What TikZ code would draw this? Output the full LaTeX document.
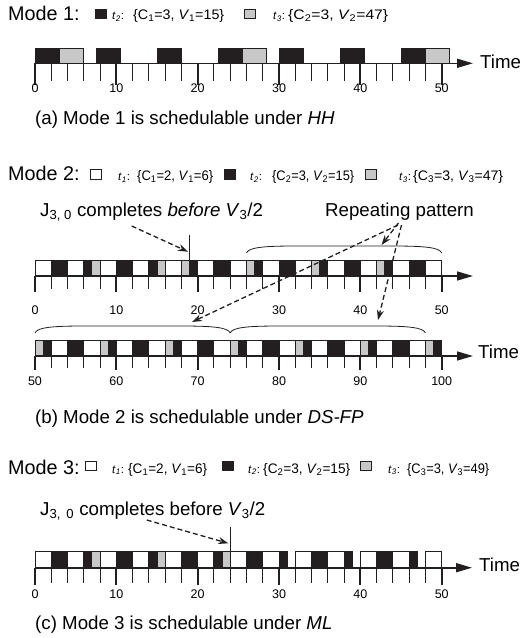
\documentclass[tikz,border=0pt]{standalone}
\usepackage{graphicx}
\usepackage{fontspec}
\setmainfont{Liberation Sans}
\usetikzlibrary{arrows.meta}
\definecolor{blk}{HTML}{231F20}
\definecolor{gry}{HTML}{C8C8C8}
\definecolor{wht}{HTML}{FFFFFF}
\newcommand{\schedrow}[4]{\foreach \s/\e/\c in {#4}{\filldraw[blockst, fill=\c] ({35+8.134*(\s-#1)},#2) rectangle ({35+8.134*(\e-#1)},#3);}}
\newcommand{\ticksrow}[6]{%
 \foreach \t in {0,2,...,50}{\draw[minortick] ({35+8.134*\t},#2) -- ({35+8.134*\t},{#2+#3});}
 \foreach \t in {0,10,...,50}{\draw[majortick] ({35+8.134*\t},#2) -- ({35+8.134*\t},{#2+#4});
   \pgfmathtruncatemacro{\lab}{\t+#1}
   \node[ticklab] (lab#6-\t) at ({35+8.134*\t},#5) {\lab};}}
\newcommand{\archbrace}[4]{\draw[bracest] (#1,#3) .. controls (#1+2,#4+1) and (#1+20,#4) .. (#1+50,#4) -- (#2-50,#4) .. controls (#2-20,#4) and (#2-2,#4+1) .. (#2,#3);}
\newcommand{\tsub}[2]{\textit{#1}\textsubscript{\textit{#2}}:}
\newcommand{\legt}[4]{\resizebox{#1pt}{\height}{\{C\textsubscript{#2}=#3, \textit{V}\textsubscript{#2}=#4\}}}
\tikzset{
 big/.style={font=\fontsize{18.7}{21}\selectfont, inner sep=0pt, anchor=base west},
 modelab/.style={font=\fontsize{19.8}{22}\selectfont, inner sep=0pt, anchor=base west},
 small/.style={font=\fontsize{13.8}{16}\selectfont, inner sep=0pt, anchor=base west},
 tlab/.style={font=\fontsize{11.5}{14}\selectfont, inner sep=0pt, anchor=base west},
 ticklab/.style={font=\fontsize{12.5}{14}\selectfont, inner sep=0pt},
 sq/.style={draw=blk, line width=0.9pt, minimum width=11pt, minimum height=9.5pt, inner sep=0pt},
 blockst/.style={draw=blk, line width=0.9pt},
 minortick/.style={draw=blk, line width=1pt},
 majortick/.style={draw=blk, line width=2pt},
 axisst/.style={draw=blk, line width=1.6pt, -{Triangle[length=16pt,width=9pt]}},
 dasharrow/.style={draw=blk, line width=1.3pt, dash pattern=on 5pt off 3pt, -{Stealth[length=10pt,width=7pt]}},
 bracest/.style={draw=blk, line width=0.8pt},
 marker/.style={draw=blk, line width=0.9pt}
}
\begin{document}
\begin{tikzpicture}[x=1pt,y=-1pt]
\useasboundingbox (0,0) rectangle (523,638);
% ---------- panel a ----------
\node[modelab] (m1) at (8,20.7) {Mode 1:};
\node[sq, fill=blk] (m1s2) at (101.2,13.8) {};
\node[tlab] (m1t2) at (112,19.8) {\tsub{t}{2}};
\node[small] (m1p2) at (133,19.8) {\legt{91}{1}{3}{15}};
\node[sq, fill=gry] (m1s3) at (250,13.8) {};
\node[tlab] (m1t3) at (273,19.8) {\tsub{t}{3}};
\node[small] (m1p3) at (288,19.8) {\legt{100}{2}{3}{47}};
\schedrow{0}{48}{63.3}{0/3/blk, 3/6/gry, 7.5/10.5/blk, 15/18/blk, 22.5/25.5/blk, 25.5/28.5/gry, 30/33/blk, 37.5/40.5/blk, 45/48/blk, 48/51/gry}
\coordinate (a0) at (35,63.3); \coordinate (a1) at (473,63.3);
\draw[axisst] (a0) -- (a1);
\ticksrow{0}{63.3}{18}{22}{88}{a}
\node[big] (timea) at (480,68.5) {Time};
\node[big] (capa) at (35,124.5) {(a) Mode 1 is schedulable under \textit{HH}};
% ---------- panel b ----------
\node[modelab] (m2) at (8,180.7) {Mode 2:};
\node[sq, fill=wht] (m2s1) at (96,174.2) {};
\node[tlab] (m2t1) at (118,180.2) {\tsub{t}{1}};
\node[small] (m2p1) at (137,180.2) {\legt{76}{1}{2}{6}};
\node[sq, fill=blk] (m2s2) at (230,174.2) {};
\node[tlab] (m2t2) at (250,180.2) {\tsub{t}{2}};
\node[small] (m2p2) at (272,180.2) {\legt{82}{2}{3}{15}};
\node[sq, fill=gry] (m2s3) at (370.5,174.2) {};
\node[tlab] (m2t3) at (399,180.2) {\tsub{t}{3}};
\node[small] (m2p3) at (413,180.2) {\legt{90}{3}{3}{47}};
\node[big] (jb) at (40,216.7) {J\textsubscript{3, 0} completes \textit{before} \textit{V}\textsubscript{3}/2};
\node[big] (rp) at (325,216.7) {Repeating pattern};
% row 1
\schedrow{0}{260}{276}{0/2/wht, 2/4/blk, 4/6/wht, 6/7/blk, 7/8/gry, 8/10/wht, 10/12/blk, 12/14/wht, 14/15/blk, 15/16/gry, 16/18/wht, 18/19/gry, 19/20/blk, 20/22/wht, 22/24/blk, 24/26/wht,
 26/27/gry, 27/28/blk, 28/30/wht, 30/32/blk, 32/34/wht,
 34/35/gry, 35/36/blk, 36/38/wht, 38/40/blk, 40/42/wht,
 42/43/gry, 43/44/blk, 44/46/wht, 46/48/blk, 48/50/wht}
\coordinate (b0) at (35,276); \coordinate (b1) at (473,276);
\draw[axisst] (b0) -- (b1);
\ticksrow{0}{276}{13}{16}{310}{b}
\coordinate (mkb) at ({35+8.134*19},235); \coordinate (mkbb) at ({35+8.134*19},260);
\draw[marker] (mkb) -- (mkbb);
\coordinate (jbs) at (131.7,226); \coordinate (jbe) at (188,251.7);
\draw[dasharrow] (jbs) -- (jbe);
\archbrace{246.5}{441.7}{253}{246}
% row 2
\schedrow{50}{340.7}{356}{50/51/gry, 51/52/blk, 52/54/wht, 54/56/blk, 56/58/wht,
 58/59/gry, 59/60/blk, 60/62/wht, 62/64/blk, 64/66/wht,
 66/67/gry, 67/68/blk, 68/70/wht, 70/72/blk, 72/74/wht,
 74/75/gry, 75/76/blk, 76/78/wht, 78/80/blk, 80/82/wht,
 82/83/gry, 83/84/blk, 84/86/wht, 86/88/blk, 88/90/wht,
 90/91/gry, 91/92/blk, 92/94/wht, 94/96/blk, 96/98/wht,
 98/99/gry, 99/100/blk}
\coordinate (c0) at (35,356); \coordinate (c1) at (473,356);
\draw[axisst] (c0) -- (c1);
\ticksrow{50}{356}{12}{14}{381}{c}
\node[big] (timeb) at (478,358.5) {Time};
\archbrace{35}{230.2}{333}{326}
\archbrace{230.2}{425.4}{333}{326}
\coordinate (rps1) at (398.5,223); \coordinate (rps2) at (398,225); \coordinate (rps3) at (401.5,225);
\coordinate (br1) at (381.5,245); \coordinate (br2) at (192,322); \coordinate (br3) at (378,320);
\draw[dasharrow] (rps1) -- (br1);
\draw[dasharrow] (rps2) -- (br2);
\draw[dasharrow] (rps3) -- (br3);
\node[big] (capb) at (35,423.3) {(b) Mode 2 is schedulable under \textit{DS-FP}};
% ---------- panel c ----------
\node[modelab] (m3) at (8,474) {Mode 3:};
\node[sq, fill=wht] (m3s1) at (91,466) {};
\node[tlab] (m3t1) at (112,473) {\tsub{t}{1}};
\node[small] (m3p1) at (128,473) {\legt{79}{1}{2}{6}};
\node[sq, fill=blk] (m3s2) at (228,466) {};
\node[tlab] (m3t2) at (248,473) {\tsub{t}{2}};
\node[small] (m3p2) at (263,473) {\legt{87}{2}{3}{15}};
\node[sq, fill=gry] (m3s3) at (366,466) {};
\node[tlab] (m3t3) at (388,473) {\tsub{t}{3}};
\node[small] (m3p3) at (407,473) {\legt{82}{3}{3}{49}};
\node[big] (jc) at (40,515) {J\textsubscript{3,\, 0} completes before \textit{V}\textsubscript{3}/2};
\schedrow{0}{551.7}{567.7}{0/2/wht, 2/4/blk, 4/6/wht, 6/7/blk, 7/8/gry, 8/10/wht, 10/12/blk, 12/14/wht, 14/15/blk, 15/16/gry, 16/18/wht, 18/20/blk, 20/22/wht, 22/23/blk, 23/24/gry, 24/26/wht, 26/28/blk, 28/30/wht, 30/31/blk, 32/34/wht, 34/36/blk, 36/38/wht, 38/39/blk, 40/42/wht, 42/44/blk, 44/46/wht, 46/47/blk, 48/50/wht}
\coordinate (d0) at (35,567.7); \coordinate (d1) at (472,567.7);
\draw[axisst] (d0) -- (d1);
\ticksrow{0}{567.7}{15}{17}{594}{d}
\node[big] (timec) at (479,571.7) {Time};
\coordinate (mkc) at ({35+8.134*24},527); \coordinate (mkcc) at ({35+8.134*24},551.7);
\draw[marker] (mkc) -- (mkcc);
\coordinate (jcs) at (146.7,520); \coordinate (jce) at (228.3,543.3);
\draw[dasharrow] (jcs) -- (jce);
\node[big] (capc) at (35,629) {(c) Mode 3 is schedulable under \textit{ML}};
\end{tikzpicture}
\end{document}
